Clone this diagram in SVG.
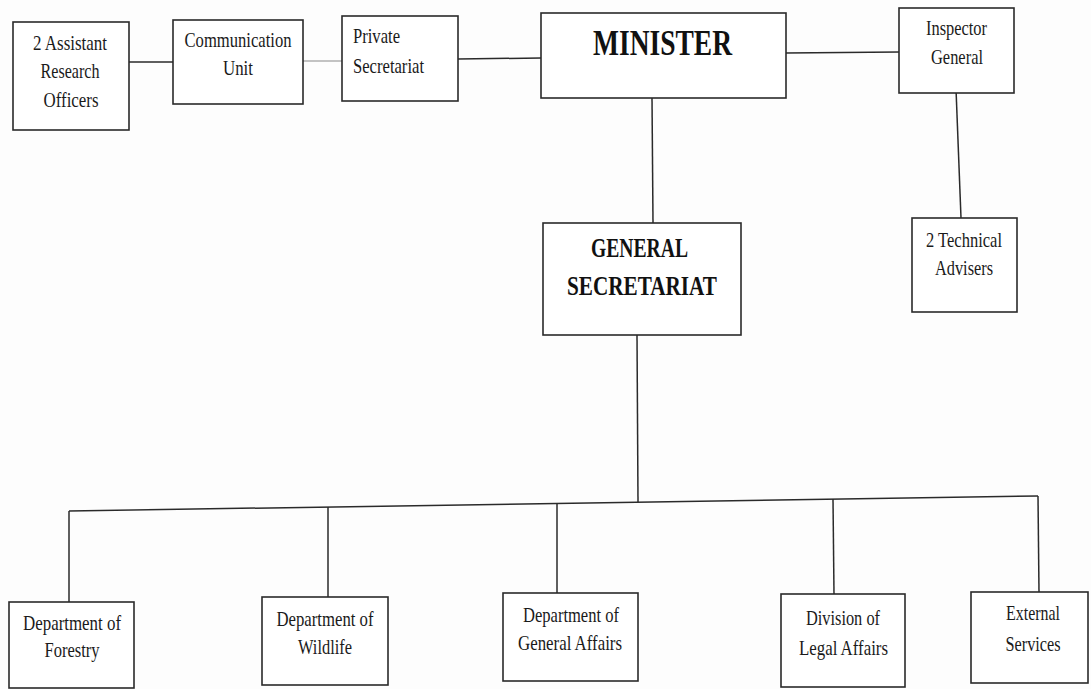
<svg xmlns="http://www.w3.org/2000/svg" width="1091" height="689" viewBox="0 0 1091 689">
<style>
.box{fill:#fff;stroke:#2a2a2a;stroke-width:1.6}
.ln{fill:none;stroke:#2a2a2a;stroke-width:1.5}
.lnl{fill:none;stroke:#8a8a8a;stroke-width:1.2}
.t{font-family:"Liberation Serif","DejaVu Serif","Times New Roman",serif;font-size:22px;fill:#1a1a1a;text-anchor:middle}
.tl{text-anchor:start}
.b{font-weight:bold;fill:#111}
</style>
<rect width="1091" height="689" fill="#fdfdfd"/>
<g id="connectors">
<line class="ln" x1="129" y1="62" x2="173" y2="62"/>
<line class="lnl" x1="303" y1="61" x2="342" y2="61"/>
<line class="ln" x1="458" y1="59" x2="541" y2="58"/>
<line class="ln" x1="786" y1="53" x2="899" y2="52"/>
<line class="ln" x1="652" y1="98" x2="653" y2="223"/>
<line class="ln" x1="956" y1="89" x2="961" y2="218"/>
<line class="ln" x1="637" y1="335" x2="638" y2="502"/>
<line class="ln" x1="69" y1="511" x2="1038" y2="496"/>
<line class="ln" x1="69" y1="511" x2="69" y2="602"/>
<line class="ln" x1="328" y1="507" x2="328" y2="597"/>
<line class="ln" x1="557" y1="504" x2="557" y2="593"/>
<line class="ln" x1="833" y1="499" x2="834" y2="594"/>
<line class="ln" x1="1038" y1="496" x2="1039" y2="592"/>
</g>
<g id="aro">
<rect class="box" x="13" y="22" width="116" height="108"/>
<text class="t" x="70" y="50" textLength="74" lengthAdjust="spacingAndGlyphs">2 Assistant</text>
<text class="t" x="70" y="78" textLength="59" lengthAdjust="spacingAndGlyphs">Research</text>
<text class="t" x="71" y="107" textLength="55" lengthAdjust="spacingAndGlyphs">Officers</text>
</g>
<g id="comm">
<rect class="box" x="173" y="20" width="130" height="84"/>
<text class="t" x="238" y="47" textLength="107" lengthAdjust="spacingAndGlyphs">Communication</text>
<text class="t" x="238" y="75" textLength="30" lengthAdjust="spacingAndGlyphs">Unit</text>
</g>
<g id="private">
<rect class="box" x="342" y="16" width="116" height="85"/>
<text class="t tl" x="353" y="43" textLength="47" lengthAdjust="spacingAndGlyphs">Private</text>
<text class="t tl" x="353" y="73" textLength="71" lengthAdjust="spacingAndGlyphs">Secretariat</text>
</g>
<g id="minister">
<rect class="box" x="541" y="13" width="245" height="85"/>
<text class="t b" x="662.5" y="55" style="font-size:36px" textLength="139" lengthAdjust="spacingAndGlyphs">MINISTER</text>
</g>
<g id="inspector">
<rect class="box" x="899" y="8" width="115" height="85"/>
<text class="t" x="956.5" y="35" style="font-size:21px" textLength="61" lengthAdjust="spacingAndGlyphs">Inspector</text>
<text class="t" x="957" y="64" style="font-size:21px" textLength="52" lengthAdjust="spacingAndGlyphs">General</text>
</g>
<g id="gensec">
<rect class="box" x="543" y="223" width="198" height="112"/>
<text class="t b" x="639.5" y="257" style="font-size:27px" textLength="97" lengthAdjust="spacingAndGlyphs">GENERAL</text>
<text class="t b" x="642" y="295" style="font-size:27px" textLength="150" lengthAdjust="spacingAndGlyphs">SECRETARIAT</text>
</g>
<g id="techadv">
<rect class="box" x="912" y="218" width="105" height="94"/>
<text class="t" x="964" y="247" textLength="76" lengthAdjust="spacingAndGlyphs">2 Technical</text>
<text class="t" x="964" y="275" textLength="58" lengthAdjust="spacingAndGlyphs">Advisers</text>
</g>
<g id="forestry">
<rect class="box" x="9" y="602" width="125" height="86"/>
<text class="t" x="72" y="630" textLength="98" lengthAdjust="spacingAndGlyphs">Department of</text>
<text class="t" x="72" y="657" textLength="55" lengthAdjust="spacingAndGlyphs">Forestry</text>
</g>
<g id="wildlife">
<rect class="box" x="262" y="597" width="126" height="88"/>
<text class="t" x="325" y="626" textLength="97" lengthAdjust="spacingAndGlyphs">Department of</text>
<text class="t" x="325" y="654" textLength="54" lengthAdjust="spacingAndGlyphs">Wildlife</text>
</g>
<g id="general-affairs">
<rect class="box" x="503" y="593" width="135" height="88"/>
<text class="t" x="571" y="622" textLength="96" lengthAdjust="spacingAndGlyphs">Department of</text>
<text class="t" x="570" y="650" textLength="104" lengthAdjust="spacingAndGlyphs">General Affairs</text>
</g>
<g id="legal">
<rect class="box" x="781" y="594" width="124" height="93"/>
<text class="t" x="843" y="625" textLength="74" lengthAdjust="spacingAndGlyphs">Division of</text>
<text class="t" x="843.5" y="655" textLength="89" lengthAdjust="spacingAndGlyphs">Legal Affairs</text>
</g>
<g id="external">
<rect class="box" x="971" y="592" width="117" height="91"/>
<text class="t" x="1033" y="620" textLength="54" lengthAdjust="spacingAndGlyphs">External</text>
<text class="t" x="1033" y="651" textLength="55" lengthAdjust="spacingAndGlyphs">Services</text>
</g>
</svg>
